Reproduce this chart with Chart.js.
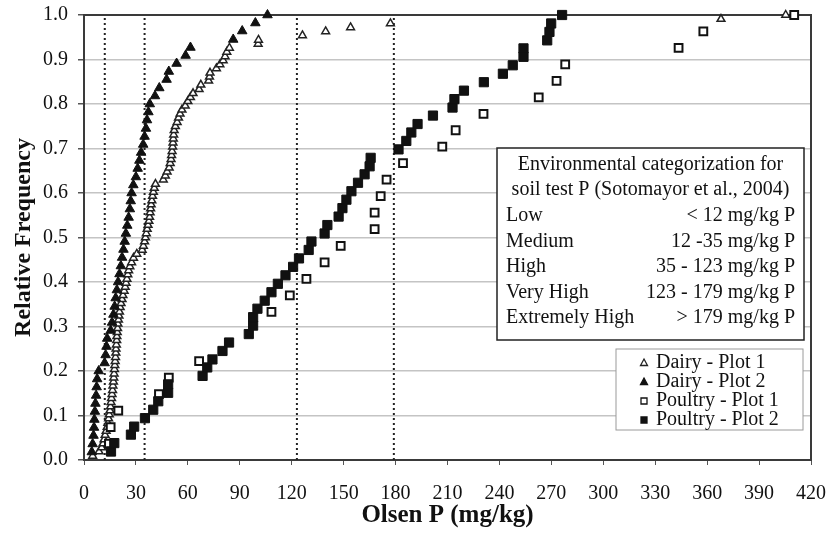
<!DOCTYPE html>
<html>
<head>
<meta charset="utf-8">
<script src="https://cdn.jsdelivr.net/npm/chart.js@4.4.1/dist/chart.umd.min.js"></script>
<style>
  html, body { margin: 0; padding: 0; background: #fff; }
  canvas { display: block; }
</style>
</head>
<body>
<canvas id="cdfChart" width="838" height="535"></canvas>
<script>
// category limits from Sotomayor et al. (mg/kg)
const categoryLimits = [12, 35, 123, 179];
const categoryNames = ["Low", "Medium", "High", "Very High", "Extremely High"];
const categoryRanges = ["< 12 mg/kg P", "12 -35 mg/kg P", "35 - 123 mg/kg P", "123 - 179 mg/kg P", "> 179 mg/kg P"];
const boxTitle = ["Environmental categorization for", "soil test P (Sotomayor et al., 2004)"];
const seriesNames = ["Dairy - Plot 1", "Dairy - Plot 2", "Poultry - Plot 1", "Poultry - Plot 2"];

// Dairy - Plot 1 (open triangles)
const dairy1X = [5, 8.7, 10.2, 11, 11.6, 12.2, 12.8, 13.4, 13.8, 14.2, 14.6, 15, 15.3, 15.6, 15.9, 16.2, 16.5, 16.7, 17, 17.2,
  17.4, 17.6, 17.8, 18, 18.2, 18.4, 18.5, 18.7, 18.9, 19, 19.2, 19.4, 19.6, 19.9, 20.2, 20.5, 20.9, 21.4, 22, 22.5,
  23.2, 23.8, 24.3, 24.8, 25.3, 25.8, 26.5, 27.5, 28.6, 30.5, 33.6, 34.3, 35, 35.5, 36, 36.5, 37, 37.5, 37.9, 38.2,
  38.5, 38.8, 39.2, 39.6, 40.1, 40.6, 41.3, 45.8, 47, 48, 49.2, 49.8, 50.3, 50.6, 50.9, 51.2, 51.4, 51.6, 51.8, 52.1,
  52.8, 53.8, 54.6, 55.5, 56.6, 58.5, 60, 61.5, 63, 66.5, 67.5, 72, 72.5, 72.8, 76.5, 78.5, 80.4, 81.5, 82.5, 84,
  100.6, 100.8, 126.2, 139.6, 154, 177, 368, 405.4];
const dairy1Y = [0.009, 0.019, 0.028, 0.037, 0.046, 0.056, 0.065, 0.074, 0.083, 0.093, 0.102, 0.111, 0.120, 0.130, 0.139, 0.148, 0.157, 0.167, 0.176, 0.185,
  0.194, 0.204, 0.213, 0.222, 0.231, 0.241, 0.250, 0.259, 0.269, 0.278, 0.287, 0.296, 0.306, 0.315, 0.324, 0.333, 0.343, 0.352, 0.361, 0.370,
  0.380, 0.389, 0.398, 0.407, 0.417, 0.426, 0.435, 0.444, 0.454, 0.463, 0.472, 0.481, 0.491, 0.500, 0.509, 0.519, 0.528, 0.537, 0.546, 0.556,
  0.565, 0.574, 0.583, 0.593, 0.602, 0.611, 0.620, 0.630, 0.639, 0.648, 0.657, 0.667, 0.676, 0.685, 0.694, 0.704, 0.713, 0.722, 0.731, 0.741,
  0.750, 0.759, 0.769, 0.778, 0.787, 0.796, 0.806, 0.815, 0.824, 0.833, 0.843, 0.852, 0.861, 0.870, 0.880, 0.889, 0.898, 0.907, 0.917, 0.926,
  0.935, 0.944, 0.954, 0.963, 0.972, 0.981, 0.991, 1.000];

// Dairy - Plot 2 (filled triangles)
const dairy2X = [4.5, 5, 5.5, 5.8, 6, 6.3, 6.6, 7, 7.3, 7.6, 8.5, 11.9, 12.5, 13, 13.4, 15.4, 16.2, 17, 17.7, 18.3,
  19, 19.7, 20.5, 21.3, 22, 22.8, 23.5, 24.2, 25, 25.8, 26.5, 27, 27.5, 28.5, 30, 31, 32, 33, 34.2, 35,
  35.8, 36.4, 37.2, 38, 41, 43.5, 47.7, 49, 53.5, 58.7, 61.5, 86.2, 91.4, 99, 106];
const dairy2Y = [0.018, 0.036, 0.055, 0.073, 0.091, 0.109, 0.127, 0.145, 0.164, 0.182, 0.200, 0.218, 0.236, 0.255, 0.273, 0.291, 0.309, 0.327, 0.345, 0.364,
  0.382, 0.400, 0.418, 0.436, 0.455, 0.473, 0.491, 0.509, 0.527, 0.545, 0.564, 0.582, 0.600, 0.618, 0.636, 0.655, 0.673, 0.691, 0.709, 0.727,
  0.745, 0.764, 0.782, 0.800, 0.818, 0.836, 0.855, 0.873, 0.891, 0.909, 0.927, 0.945, 0.964, 0.982, 1.000];

// Poultry - Plot 1 (open squares)
const poultry1X = [14.4, 15.4, 19.8, 43.3, 49, 66.5, 108.3, 118.9, 128.5, 139, 148.3, 167.9, 167.9, 171.4, 174.8, 184.3,
  207, 214.7, 230.8, 262.7, 273, 278, 343.5, 357.8, 410.3];
const poultry1Y = [0.037, 0.074, 0.111, 0.148, 0.185, 0.222, 0.333, 0.370, 0.407, 0.444, 0.481, 0.519, 0.556, 0.593, 0.630, 0.667,
  0.704, 0.741, 0.778, 0.815, 0.852, 0.889, 0.926, 0.963, 1.000];

// Poultry - Plot 2 (filled squares)
const poultry2X = [15.6, 17.5, 27.1, 29, 35.2, 40, 42.9, 48.6, 48.6, 68.5, 71.2, 74.2, 80, 83.8, 95.2, 97.7, 97.7, 100.2, 104.4, 108.3,
  112, 116.4, 120.8, 124.2, 129.8, 131.4, 139, 140.6, 147.1, 149.3, 151.6, 154.5, 158.3, 162.1, 165, 165.6, 181.7, 186.2, 189.1, 192.7,
  201.6, 212.9, 214, 219.5, 231, 242, 247.7, 253.9, 253.9, 267.6, 268.9, 269.9, 276.2];
const poultry2Y = [0.019, 0.038, 0.057, 0.075, 0.094, 0.113, 0.132, 0.151, 0.170, 0.189, 0.208, 0.226, 0.245, 0.264, 0.283, 0.302, 0.321, 0.340, 0.358, 0.377,
  0.396, 0.415, 0.434, 0.453, 0.472, 0.491, 0.509, 0.528, 0.547, 0.566, 0.585, 0.604, 0.623, 0.642, 0.660, 0.679, 0.698, 0.717, 0.736, 0.755,
  0.774, 0.792, 0.811, 0.830, 0.849, 0.868, 0.887, 0.906, 0.925, 0.943, 0.962, 0.981, 1.000];

const serif = "'Liberation Serif', 'Times New Roman', serif";

function toPoints(xs, ys) {
  return xs.map((x, i) => ({ x: x, y: ys[i] }));
}

const markerStyles = [
  { pointStyle: "triangle", radius: 4.5, fill: "#fff", stroke: "#222", width: 1.5 },
  { pointStyle: "triangle", radius: 5.5, fill: "#111", stroke: "#111", width: 1 },
  { pointStyle: "rect", radius: 5.5, fill: "#fff", stroke: "#111", width: 2 },
  { pointStyle: "rect", radius: 6.5, fill: "#111", stroke: "#111", width: 1 }
];
const seriesData = [
  toPoints(dairy1X, dairy1Y),
  toPoints(dairy2X, dairy2Y),
  toPoints(poultry1X, poultry1Y),
  toPoints(poultry2X, poultry2Y)
];

let datasets = seriesData.map((pts, i) => ({
  label: seriesNames[i],
  data: pts,
  pointStyle: markerStyles[i].pointStyle,
  pointRadius: markerStyles[i].radius,
  pointHoverRadius: markerStyles[i].radius,
  backgroundColor: markerStyles[i].fill,
  borderColor: markerStyles[i].stroke,
  borderWidth: markerStyles[i].width,
  clip: false,
  order: 4 - i
}));

// dotted category boundaries
categoryLimits.forEach(lim => {
  datasets.push({
    label: "limit " + lim,
    data: [{ x: lim, y: 0 }, { x: lim, y: 1 }],
    showLine: true,
    pointRadius: 0,
    borderColor: "#222",
    borderWidth: 2,
    borderDash: [2, 3],
    order: 10
  });
});

const overlay = {
  id: "overlay",
  beforeDatasetsDraw(chart) {
    const { ctx, chartArea: a } = chart;
    ctx.save();
    ctx.strokeStyle = "#3a3a3a";
    ctx.lineWidth = 2;
    ctx.strokeRect(a.left, a.top, a.right - a.left, a.bottom - a.top);
    ctx.restore();
  },
  afterDraw(chart) {
    const ctx = chart.ctx;
    ctx.save();

    // categorization box
    ctx.fillStyle = "#fff";
    ctx.fillRect(497, 148, 307, 192);
    ctx.strokeStyle = "#222";
    ctx.lineWidth = 1.5;
    ctx.strokeRect(497, 148, 307, 192);
    ctx.fillStyle = "#111";
    ctx.font = "20px " + serif;
    ctx.textBaseline = "middle";
    ctx.textAlign = "center";
    ctx.fillText(boxTitle[0], 650.5, 165);
    ctx.fillText(boxTitle[1], 650.5, 190);
    categoryNames.forEach((name, i) => {
      let y = 216 + i * 25.5;
      ctx.textAlign = "left";
      ctx.fillText(name, 506, y);
      ctx.textAlign = "right";
      ctx.fillText(categoryRanges[i], 795, y);
    });

    // legend
    ctx.fillStyle = "#fff";
    ctx.fillRect(616, 349, 187, 81);
    ctx.strokeStyle = "#9a9a9a";
    ctx.lineWidth = 1;
    ctx.strokeRect(616, 349, 187, 81);
    seriesNames.forEach((name, i) => {
      let y = 363 + i * 19;
      let m = markerStyles[i];
      ctx.beginPath();
      if (m.pointStyle === "triangle") {
        ctx.moveTo(644, y - 4);
        ctx.lineTo(647.5, y + 2.5);
        ctx.lineTo(640.5, y + 2.5);
        ctx.closePath();
      } else {
        ctx.rect(641, y - 3, 6, 6);
      }
      ctx.fillStyle = m.fill;
      ctx.fill();
      ctx.strokeStyle = m.stroke;
      ctx.lineWidth = 1.3;
      ctx.stroke();
      ctx.fillStyle = "#111";
      ctx.textAlign = "left";
      ctx.fillText(name, 656, y);
    });
    ctx.restore();
  }
};

new Chart(document.getElementById("cdfChart"), {
  type: "scatter",
  data: { datasets: datasets },
  options: {
    responsive: false,
    devicePixelRatio: 1,
    animation: false,
    layout: { padding: { top: 15, right: 27, left: 0, bottom: 0 } },
    plugins: {
      legend: { display: false },
      tooltip: { enabled: false }
    },
    scales: {
      x: {
        type: "linear",
        min: 0,
        max: 420,
        afterFit: s => { s.height = 75; s.paddingLeft = 0; s.paddingRight = 0; },
        ticks: {
          stepSize: 30,
          color: "#111",
          padding: 17,
          font: { family: serif, size: 20 },
          maxRotation: 0
        },
        grid: { drawOnChartArea: false, drawTicks: true, tickLength: 5, tickColor: "#555", lineWidth: 1 },
        border: { color: "#3a3a3a", width: 2 },
        title: {
          display: true,
          text: "Olsen P (mg/kg)",
          color: "#111",
          font: { family: serif, size: 25, weight: "bold" },
          padding: { top: 0, bottom: 4 }
        }
      },
      y: {
        type: "linear",
        min: 0,
        max: 1,
        afterFit: s => { s.width = 84; s.paddingTop = 0; s.paddingBottom = 0; },
        ticks: {
          stepSize: 0.1,
          color: "#111",
          padding: 10,
          font: { family: serif, size: 20 },
          callback: v => v.toFixed(1)
        },
        grid: { color: "#c4c4c4", lineWidth: 1.5, tickLength: 6, tickColor: "#555" },
        border: { color: "#3a3a3a", width: 2 },
        title: {
          display: true,
          text: "Relative Frequency",
          color: "#111",
          font: { family: serif, size: 24, weight: "bold" },
          padding: { top: 9, bottom: 0 }
        }
      }
    }
  },
  plugins: [overlay]
});
</script>
</body>
</html>
